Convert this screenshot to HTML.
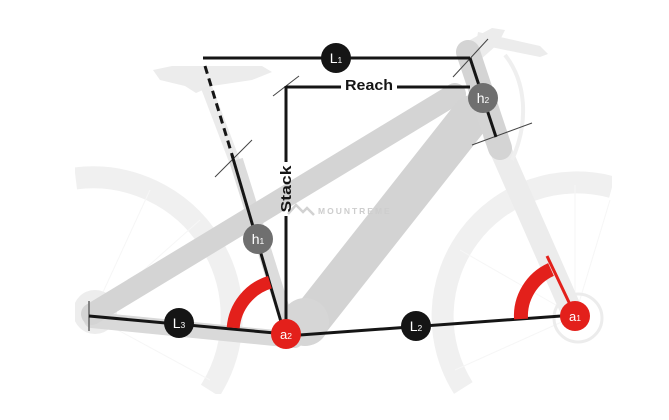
<!DOCTYPE html>
<html><head><meta charset="utf-8"><style>
html,body{margin:0;padding:0;background:#fff;width:669px;height:420px;overflow:hidden;}
svg{display:block;}
</style></head><body>
<svg width="669" height="420" viewBox="0 0 669 420" xmlns="http://www.w3.org/2000/svg">
<defs>
<clipPath id="cl"><rect x="75" y="0" width="537" height="394"/></clipPath>
</defs>
<rect width="669" height="420" fill="#fff"/>
<g clip-path="url(#cl)">
  <path d="M210.2 390.6 A139 139 0 0 0 75.7 178.4" fill="none" stroke="#f0f0f0" stroke-width="22"/>
  <path d="M463.3 388 A134 134 0 0 1 612 187.2" fill="none" stroke="#f0f0f0" stroke-width="22"/>
  <g stroke="#f6f6f6" stroke-width="1">
    <line x1="575" y1="316" x2="575" y2="185"/><line x1="575" y1="316" x2="460" y2="250"/>
    <line x1="575" y1="316" x2="455" y2="370"/><line x1="575" y1="316" x2="610" y2="200"/>
    <line x1="92" y1="316" x2="200" y2="220"/><line x1="92" y1="316" x2="150" y2="190"/>
    <line x1="92" y1="316" x2="210" y2="380"/>
  </g>
  <circle cx="578" cy="318" r="24" fill="none" stroke="#ececec" stroke-width="3"/>
  <circle cx="95" cy="312" r="22" fill="#ededed"/>
</g>
<line x1="494" y1="135" x2="572" y2="312" stroke="#ececec" stroke-width="22" stroke-linecap="round"/>
<path d="M505 55 C525 80 530 120 512 160" fill="none" stroke="#efefef" stroke-width="4"/>
<path d="M462 62 L470 40 L492 28 L505 30 L498 44 L480 60 Z" fill="#ececec"/>
<path d="M478 32 L540 46 L548 54 L540 57 L476 44 Z" fill="#ececec"/>
<path d="M153 70 L172 66 L262 66 L272 72 L252 80 L212 86 L196 93 L185 86 L160 80 Z" fill="#ececec"/>
<line x1="206" y1="86" x2="236" y2="165" stroke="#ebebeb" stroke-width="11"/>
<line x1="236" y1="160" x2="290" y2="332" stroke="#dcdcdc" stroke-width="14"/>
<line x1="92" y1="320" x2="295" y2="340" stroke="#d9d9d9" stroke-width="16" stroke-linecap="round"/>
<line x1="455" y1="94" x2="92" y2="314" stroke="#d4d4d4" stroke-width="22" stroke-linecap="round"/>
<line x1="472" y1="115" x2="312" y2="318" stroke="#d3d3d3" stroke-width="40" stroke-linecap="round"/>
<circle cx="305" cy="322" r="24" fill="#d6d6d6"/>
<line x1="468" y1="52" x2="500" y2="148" stroke="#d4d4d4" stroke-width="24" stroke-linecap="round"/>

<polyline points="288,214 296,205 303,212 307,208 314,215" fill="none" stroke="#d2d2d2" stroke-width="2.5"/>
<text x="318" y="214" font-family="Liberation Sans, sans-serif" font-weight="bold" font-size="8.5" letter-spacing="2" fill="#cdcdcd">MOUNTREME</text>

<g stroke="#444" stroke-width="1">
  <line x1="453" y1="77" x2="488" y2="39"/>
  <line x1="472" y1="145" x2="532" y2="123"/>
  <line x1="273" y1="96" x2="299" y2="76"/>
  <line x1="215" y1="177" x2="252" y2="140"/>
</g>
<line x1="89" y1="301" x2="89" y2="331" stroke="#666" stroke-width="1.5"/>

<g stroke="#151515" stroke-width="3" fill="none">
  <line x1="203" y1="58" x2="470" y2="58"/>
  <polyline points="470,58 496,137"/>
  <line x1="286" y1="87" x2="341" y2="87"/>
  <line x1="397" y1="87" x2="470" y2="87"/>
  <line x1="286" y1="86" x2="286" y2="162"/>
  <line x1="286" y1="216" x2="286" y2="334"/>
  <line x1="205" y1="66" x2="233" y2="158" stroke-dasharray="8,5"/>
  <line x1="232" y1="155" x2="284" y2="332"/>
  <line x1="89" y1="316" x2="286" y2="334"/>
  <line x1="286" y1="336" x2="575" y2="315"/>
</g>

<path d="M233.2 327.8 A52 52 0 0 1 269.9 282.2" fill="none" stroke="#e3201b" stroke-width="13"/>
<path d="M521 319 A51 51 0 0 1 551 269.5" fill="none" stroke="#e3201b" stroke-width="14"/>
<line x1="575" y1="315" x2="547" y2="256" stroke="#e3201b" stroke-width="3"/>

<text x="369" y="90" text-anchor="middle" font-family="Liberation Sans, sans-serif" font-weight="bold" font-size="14.5" textLength="48" lengthAdjust="spacingAndGlyphs" fill="#151515">Reach</text>
<text transform="translate(291,189) rotate(-90)" text-anchor="middle" font-family="Liberation Sans, sans-serif" font-weight="bold" font-size="14.5" textLength="47" lengthAdjust="spacingAndGlyphs" fill="#151515">Stack</text>

<g font-family="Liberation Sans, sans-serif" fill="#fff" text-anchor="middle">
  <circle cx="336" cy="58" r="15" fill="#151515"/>
  <text x="336" y="63" font-size="14">L<tspan font-size="8.5">1</tspan></text>
  <circle cx="483" cy="98" r="15" fill="#6f6f6f"/>
  <text x="483" y="103" font-size="14">h<tspan font-size="8.5">2</tspan></text>
  <circle cx="258" cy="239" r="15" fill="#6f6f6f"/>
  <text x="258" y="244" font-size="14">h<tspan font-size="8.5">1</tspan></text>
  <circle cx="179" cy="323" r="15" fill="#151515"/>
  <text x="179" y="328" font-size="14">L<tspan font-size="8.5">3</tspan></text>
  <circle cx="416" cy="326" r="15" fill="#151515"/>
  <text x="416" y="331" font-size="14">L<tspan font-size="8.5">2</tspan></text>
  <circle cx="286" cy="334" r="15" fill="#e3201b"/>
  <text x="286" y="339" font-size="13">a<tspan font-size="8.5">2</tspan></text>
  <circle cx="575" cy="316" r="15" fill="#e3201b"/>
  <text x="575" y="321" font-size="13">a<tspan font-size="8.5">1</tspan></text>
</g>
</svg>
</body></html>
